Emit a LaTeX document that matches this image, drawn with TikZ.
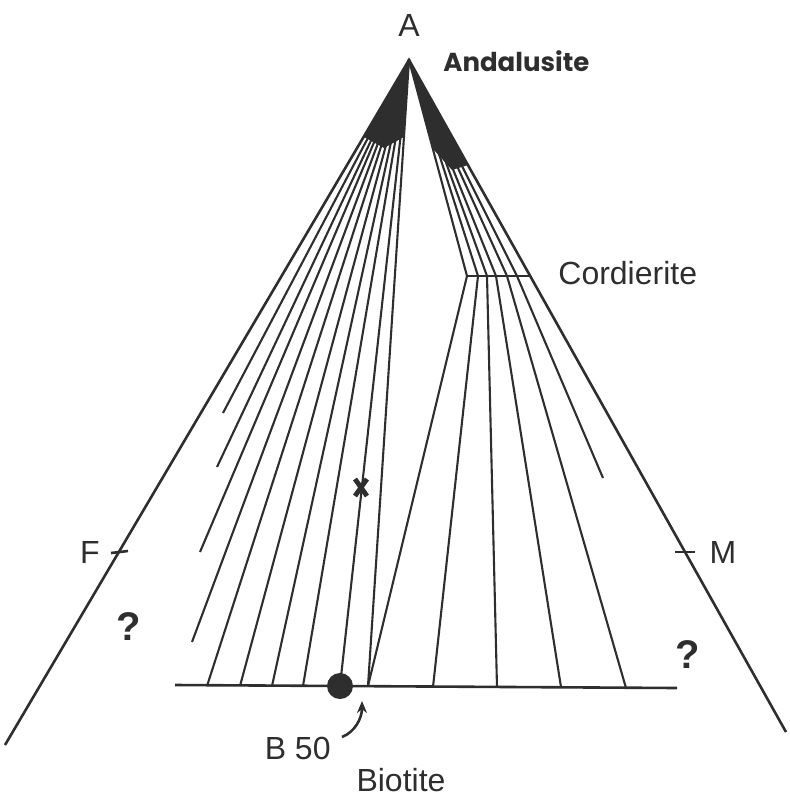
\documentclass[tikz,border=0pt]{standalone}
\usepackage{fontspec}
\setmainfont{Liberation Sans}
\newfontfamily\geofont{Poppins}
\usetikzlibrary{arrows.meta}
\definecolor{ink}{HTML}{2E2E2E}

\begin{document}
\begin{tikzpicture}[
  x=0.5pt, y=-0.5pt,
  font=\fontsize{16}{18}\selectfont,
  side/.style={draw=ink, line width=1.3pt},
  tie/.style={draw=ink, line width=1.05pt},
  lbl/.style={inner sep=0pt, text=ink},
  query/.style={inner sep=0pt, text=ink, font=\fontsize{20}{22}\selectfont\bfseries},
  dot/.style={circle, fill=ink, inner sep=0pt, minimum size=13pt},
  xcross/.style={draw=ink, line width=2.4pt},
  pointer/.style={-{Stealth[length=6pt, width=5pt]}, draw=ink, line width=1.3pt},
]
\useasboundingbox (0,0) rectangle (789,799);

% triangle A-F-M
\coordinate (apex) at (409,60);
\coordinate (fL) at (5,745);
\coordinate (fR) at (786,732);
\draw[side] (fL) -- (apex) -- (fR);
\draw[side] (111,553) -- (128,551);
\draw[side] (675,552) -- (695,552);

% tie lines run together near A
\fill[ink] (apex) -- (364,137) -- (384,148) -- (404,137) -- cycle;
\fill[ink] (apex) -- (434,150) -- (452,170) -- (468,165) -- cycle;

% biotite join
\coordinate (bioL) at (175,685);
\coordinate (bioR) at (677,688);
\draw[side] (bioL) -- (bioR);

% andalusite - biotite ties
\draw[tie] (apex) -- (223,413);
\draw[tie] (apex) -- (217,467);
\draw[tie] (apex) -- (200,552);
\draw[tie] (apex) -- (192,642);
\draw[tie] (apex) -- (207,686);
\draw[tie] (apex) -- (240,686);
\draw[tie] (apex) -- (272,686);
\draw[tie] (apex) -- (303,686);
\draw[tie] (apex) -- (340,686);
\draw[tie] (apex) -- (368,686);

% cordierite and its ties
\coordinate (crdL) at (467,276);
\coordinate (crdR) at (530,276);
\draw[side] (crdL) -- (crdR);
\draw[tie] (apex) -- (crdL) -- (368,686);
\draw[tie] (apex) -- (478,276) -- (433,687);
\draw[tie] (apex) -- (487,276) -- (497,687);
\draw[tie] (apex) -- (496,276) -- (561,687);
\draw[tie] (apex) -- (507,276) -- (626,688);
\draw[tie] (apex) -- (517,276) -- (603,478);

% sample marks
\draw[xcross] (355,479) -- (367,496) (367,479) -- (355,496);
\node[dot] (b50) at (340,686) {};
\coordinate (b50tail) at (342,737);
\coordinate (b50tip) at (362,701);
\draw[pointer] (b50tail) .. controls (355,732) and (362,718) .. (b50tip);

% labels
\node[lbl] (lblA) at (409,25) {A};
\node[lbl, anchor=west] (andal) at (443,61) {\geofont\fontsize{13}{15}\selectfont\bfseries Andalusite};
\node[lbl, anchor=west] (cord) at (558,273) {Cordierite};
\node[lbl] (lblF) at (90,552) {F};
\node[lbl] (lblM) at (723,552) {M};
\node[query] (qL) at (129,627) {?};
\node[query] (qR) at (688,655) {?};
\node[lbl, anchor=east] (b50lbl) at (331,748) {B 50};
\node[lbl] (bio) at (401,780) {Biotite};
\end{tikzpicture}
\end{document}
